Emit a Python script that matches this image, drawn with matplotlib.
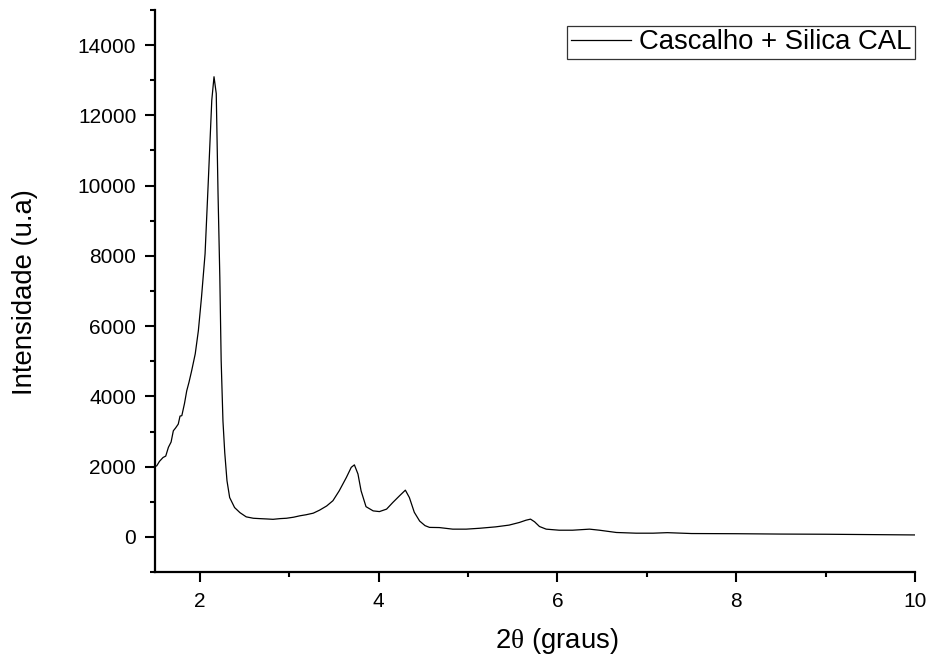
import matplotlib
matplotlib.use("Agg")
import matplotlib.pyplot as plt
from matplotlib.ticker import MultipleLocator

plt.rcParams['font.family'] = ['Liberation Sans', 'DejaVu Sans']
plt.rcParams['mathtext.fontset'] = 'custom'
plt.rcParams['mathtext.rm'] = 'Liberation Serif'

two_theta = [1.50, 1.52, 1.55, 1.59, 1.62, 1.65, 1.68, 1.705, 1.73, 1.76, 1.78, 1.80,
             1.83, 1.855, 1.88, 1.91, 1.95, 1.985, 2.02, 2.06, 2.095, 2.135, 2.16,
             2.185, 2.205, 2.225, 2.24, 2.26, 2.28, 2.305, 2.335, 2.39, 2.45, 2.52,
             2.60, 2.67, 2.75, 2.82, 2.90, 2.97, 3.05, 3.12, 3.19, 3.27, 3.34, 3.42,
             3.49, 3.56, 3.64, 3.695, 3.73, 3.77, 3.805, 3.86, 3.94, 4.01, 4.09, 4.16,
             4.235, 4.30, 4.345, 4.40, 4.46, 4.52, 4.57, 4.68, 4.83, 4.98, 5.13, 5.31,
             5.46, 5.575, 5.65, 5.70, 5.745, 5.80, 5.875, 6.02, 6.17, 6.36, 6.47, 6.66,
             6.88, 7.07, 7.23, 7.5, 8.0, 8.5, 9.0, 9.5, 10.0]
intensity = [2000, 2025, 2150, 2260, 2300, 2550, 2700, 3020, 3100, 3210, 3440, 3450,
             3800, 4160, 4400, 4730, 5210, 5870, 6820, 8060, 10060, 12430, 13100,
             12620, 9770, 7390, 5020, 3300, 2400, 1600, 1120, 835, 690, 570,
             530, 520, 510, 500, 520, 530, 560, 600, 630, 675, 760, 880,
             1030, 1310, 1690, 1980, 2050, 1790, 1310, 860, 740, 720, 790, 980,
             1170, 1330, 1120, 700, 450, 320, 270, 265, 220, 220, 245, 285,
             335, 410, 475, 505, 430, 295, 220, 190, 190, 220, 190, 125,
             105, 105, 120, 95, 90, 80, 75, 65, 55]

series_label = "Cascalho + Silica CAL"
x_label = "2$\\mathrm{\\theta}$ (graus)"
y_label = "Intensidade (u.a)"
x_ticks = [2, 4, 6, 8, 10]
y_ticks = [0, 2000, 4000, 6000, 8000, 10000, 12000, 14000]

fig = plt.figure(figsize=(9.31, 6.6), dpi=100)
ax = fig.add_axes([155/931, 88/660, 760/931, 562/660])

ax.plot(two_theta, intensity, color='black', lw=0.9, label=series_label)

ax.set_xlim(1.5, 10)
ax.set_ylim(-1000, 15000)
ax.set_xticks(x_ticks)
ax.set_yticks(y_ticks)
ax.xaxis.set_minor_locator(MultipleLocator(1))
ax.yaxis.set_minor_locator(MultipleLocator(1000))

for s in ['top', 'right']:
    ax.spines[s].set_visible(False)
for s in ['left', 'bottom']:
    ax.spines[s].set_linewidth(1.6)

ax.tick_params(which='major', direction='out', length=7.5, width=1.5, labelsize=15)
ax.tick_params(which='minor', direction='out', length=3.8, width=1.5)
ax.tick_params(axis='x', which='major', pad=7)
ax.tick_params(axis='y', which='major', pad=6)

fig.text(557/931, 1 - 641/660, x_label, fontsize=19.8, ha='center', va='center')
fig.text(25/931, 1 - 292/660, y_label, fontsize=19.8, ha='center', va='center', rotation=90)

leg = ax.legend(loc='upper right', bbox_to_anchor=(1.0, 1 - 16/562), borderaxespad=0,
                fontsize=19.8, frameon=True, fancybox=False, framealpha=1,
                edgecolor='#333333', borderpad=0.12, handlelength=2.2,
                handletextpad=0.3)
leg.get_frame().set_linewidth(0.9)

fig.savefig('out.png', dpi=100)
